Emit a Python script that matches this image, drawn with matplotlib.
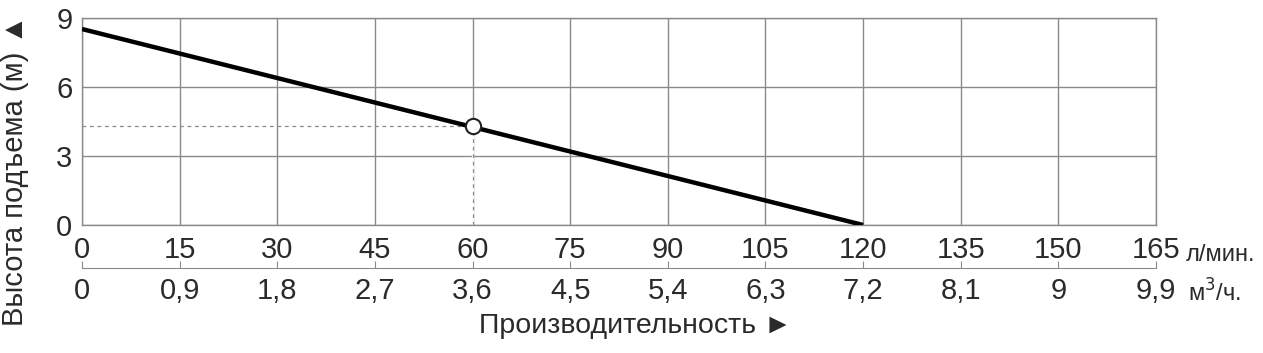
import matplotlib
matplotlib.use("Agg")
import matplotlib.pyplot as plt

plt.rcParams['font.family'] = ['Liberation Sans', 'DejaVu Sans']

# pump curve, flow in l/min, head in m
flow = [0, 120]
head = [8.5, 0]
work_flow = 60
work_head = 4.3

x_ticks = [0, 15, 30, 45, 60, 75, 90, 105, 120, 135, 150, 165]
x_labels = ["0", "15", "30", "45", "60", "75", "90", "105", "120", "135", "150", "165"]
m3h_labels = ["0", "0,9", "1,8", "2,7", "3,6", "4,5", "5,4", "6,3", "7,2", "8,1", "9", "9,9"]
y_ticks = [0, 3, 6, 9]

txt = "#2a2a2a"
grid_c = "#8a8a8a"

fig = plt.figure(figsize=(12.63, 3.53), dpi=100)
ax = fig.add_axes([82 / 1263, 1 - 225 / 353, 1074 / 1263, 207.5 / 353])

ax.set_xlim(0, 165)
ax.set_ylim(0, 9)
ax.set_xticks(x_ticks)
ax.set_xticklabels(x_labels)
ax.set_yticks(y_ticks)
ax.tick_params(length=0, labelsize=21, colors=txt, pad=8)
ax.tick_params(axis="y", pad=7)
ax.grid(True, color=grid_c, linewidth=1)
for s in ax.spines.values():
    s.set_color(grid_c)
    s.set_linewidth(1)

ax.plot(flow, head, color="black", linewidth=3.2, solid_capstyle="butt", zorder=3)
# working point: dashed guides (the grid line below the point is dashed too)
ax.plot([work_flow, work_flow], [0, work_head], color="white", linewidth=1.6, zorder=2)
ax.plot([0, work_flow], [work_head, work_head], color=grid_c, linestyle=(0, (3, 3)), linewidth=0.9, zorder=2.5)
ax.plot([work_flow, work_flow], [0, work_head], color=grid_c, linestyle=(0, (3, 3)), linewidth=0.9, zorder=2.5)
ax.plot([work_flow], [work_head], marker="o", markersize=11, markerfacecolor="white",
        markeredgecolor="#222222", markeredgewidth=1.5, zorder=4)

# second scale in m3/h
sec = ax.secondary_xaxis(-43 / 207.5)
sec.set_xticks(x_ticks)
sec.set_xticklabels(m3h_labels)
sec.tick_params(direction="in", length=5, color=grid_c, labelsize=21, labelcolor=txt, pad=6.5)
sec.spines["bottom"].set_color(grid_c)

fig.text(1186 / 1263, 1 - 261 / 353, "л/мин.", fontsize=17, color=txt, va="baseline", ha="left")
fig.text(1188 / 1263, 1 - 302 / 353, "м$^3$/ч.", fontsize=17, color=txt, va="baseline", ha="left")
fig.text(636 / 1263, 1 - 326 / 353, "Производительность ►", fontsize=20.5, color=txt, va="center", ha="center")
fig.text(15 / 1263, 1 - 170 / 353, "Высота подъема (м) ▲", fontsize=21, color=txt,
         va="center", ha="center", rotation=90)

fig.savefig("out.png", dpi=100)
